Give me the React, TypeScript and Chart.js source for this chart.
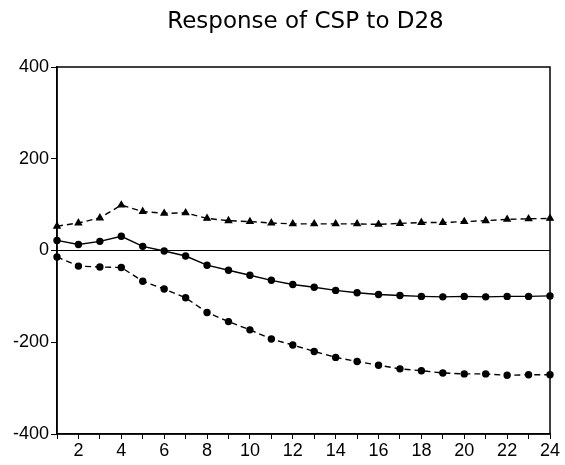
import React, { useEffect, useRef } from "react";
import { Chart, registerables } from "chart.js";

Chart.register(...registerables);

const periods = ["1","2","3","4","5","6","7","8","9","10","11","12","13","14","15","16","17","18","19","20","21","22","23","24"];
const upperBand = [53, 60, 71, 99, 85, 81, 82, 70, 65, 63, 60, 58, 58, 58, 58, 57, 59, 61, 61, 63, 65, 68, 69, 70];
const response = [22, 13, 20, 31, 9, -1, -12, -32, -43, -54, -65, -74, -80, -87, -92, -96, -98, -100, -101, -100, -101, -100, -100, -99];
const lowerBand = [-14, -34, -36, -37, -67, -84, -103, -135, -155, -173, -193, -206, -220, -233, -242, -250, -258, -262, -267, -269, -269, -272, -271, -271];
const zeroLine = periods.map(() => 0);
const yTicks = [-400, -200, 0, 200, 400];
const titleText = "Response of CSP to D28";

const frame = {
  id: "frame",
  afterDatasetsDraw(chart: any) {
    const { ctx, chartArea } = chart;
    ctx.save();
    ctx.strokeStyle = "#000";
    ctx.lineWidth = 1.5;
    ctx.strokeRect(chartArea.left, chartArea.top, chartArea.right - chartArea.left, chartArea.bottom - chartArea.top);
    ctx.restore();
  },
};

const titlePlugin = {
  id: "centeredTitle",
  afterDraw(chart: any) {
    const { ctx, chartArea } = chart;
    ctx.save();
    ctx.fillStyle = "#000";
    ctx.font = "23px 'DejaVu Sans', sans-serif";
    ctx.textAlign = "center";
    ctx.textBaseline = "middle";
    ctx.fillText(titleText, (chartArea.left + chartArea.right) / 2 + 2, 22);
    ctx.restore();
  },
};

export default function App() {
  const ref = useRef<HTMLCanvasElement | null>(null);
  useEffect(() => {
    const font = "'Liberation Sans', Arial, sans-serif";
    const chart = new Chart(ref.current as HTMLCanvasElement, {
      type: "line",
      data: {
        labels: periods,
        datasets: [
          {
            data: zeroLine,
            borderColor: "#000",
            borderWidth: 1.2,
            pointRadius: 0,
          },
          {
            data: upperBand,
            borderColor: "#000",
            backgroundColor: "#000",
            borderWidth: 1.4,
            borderDash: [6, 4],
            pointStyle: "triangle",
            pointRadius: 3.5,
          },
          {
            data: response,
            borderColor: "#000",
            backgroundColor: "#000",
            borderWidth: 1.4,
            pointStyle: "circle",
            pointRadius: 3,
          },
          {
            data: lowerBand,
            borderColor: "#000",
            backgroundColor: "#000",
            borderWidth: 1.4,
            borderDash: [6, 4],
            pointStyle: "circle",
            pointRadius: 3,
          },
        ],
      },
      options: {
        animation: false,
        responsive: false,
        layout: { padding: { left: 0, right: 15, top: 67, bottom: 0 } },
        plugins: {
          legend: { display: false },
          tooltip: { enabled: false },
          title: { display: false },
        },
        scales: {
          x: {
            type: "category",
            offset: false,
            border: { color: "#000", width: 1.5 },
            grid: { drawOnChartArea: false, color: "#000", tickLength: 5, tickWidth: 1 },
            ticks: {
              autoSkip: false,
              maxRotation: 0,
              color: "#000",
              padding: 1,
              font: { family: font, size: 18 },
              callback: (v: any, i: number) => (Number(periods[i]) % 2 === 0 ? periods[i] : ""),
            },
            afterFit: (s: any) => { s.height = 31; },
          },
          y: {
            min: -400,
            max: 400,
            border: { color: "#000", width: 1.5 },
            grid: { drawOnChartArea: false, color: "#000", tickLength: 6, tickWidth: 1 },
            afterBuildTicks: (s: any) => { s.ticks = yTicks.map((v) => ({ value: v })); },
            ticks: {
              color: "#000",
              padding: 2,
              font: { family: font, size: 18 },
            },
            afterFit: (s: any) => { s.width = 57; },
          },
        },
      },
      plugins: [frame, titlePlugin],
    });
    return () => chart.destroy();
  }, []);
  return (
    <div style={{ position: "absolute", left: 0, top: 0, width: 565, height: 465, background: "#fff" }}>
      <canvas ref={ref} width={565} height={465} />
    </div>
  );
}
